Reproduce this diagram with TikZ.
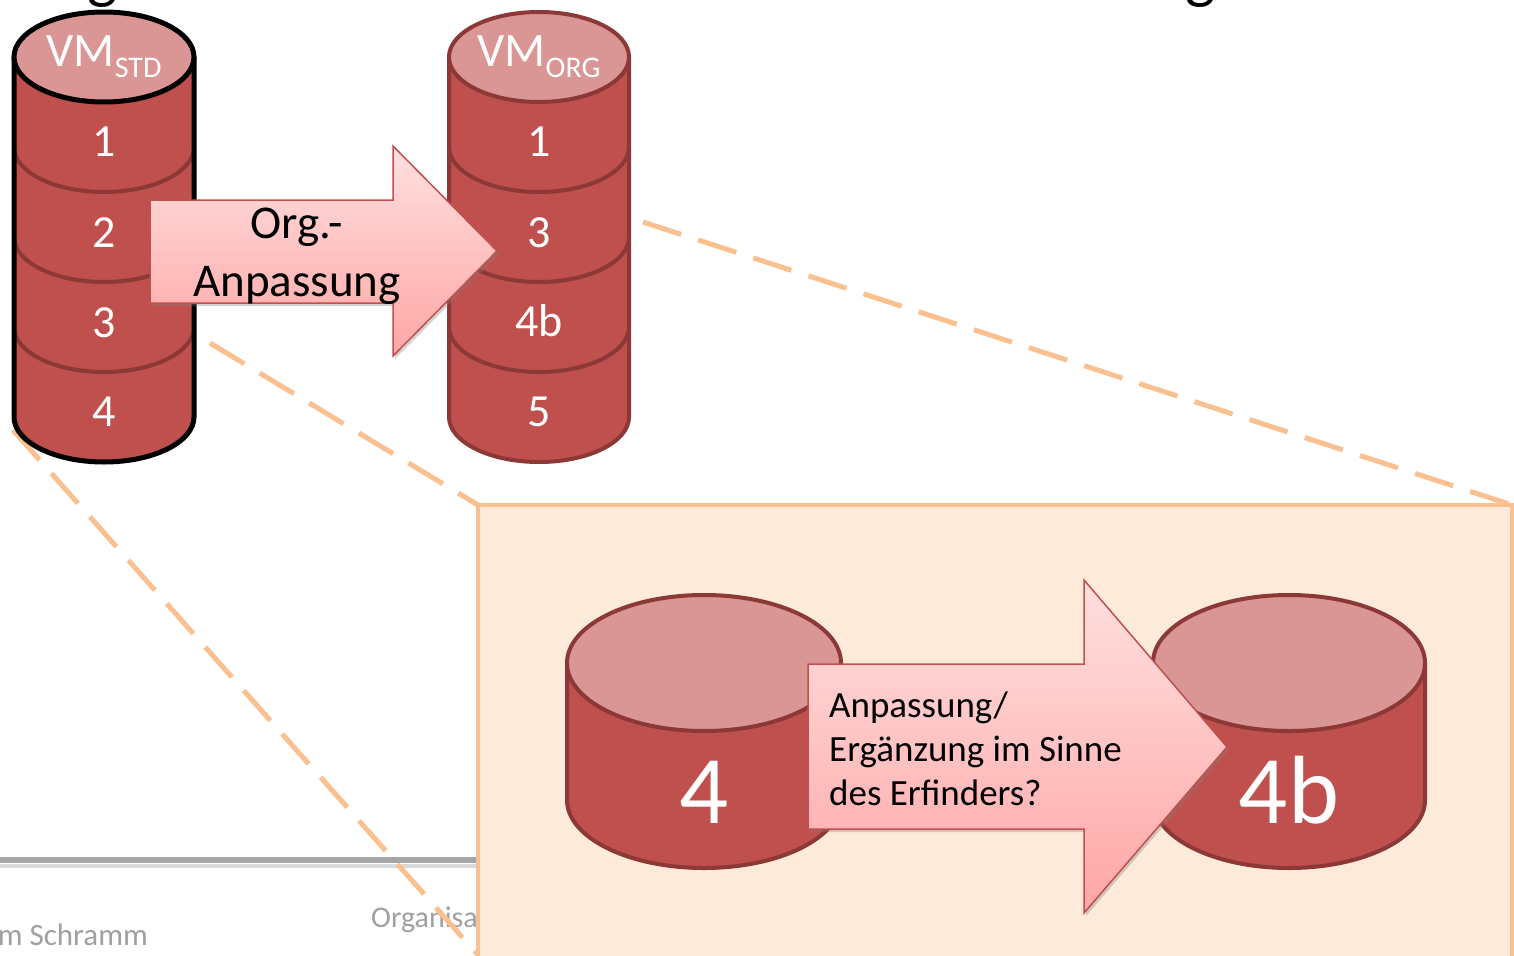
\documentclass[tikz,border=0pt]{standalone}
\usepackage{fontspec}
\setmainfont{Carlito}
\usetikzlibrary{shadows}

\definecolor{cylbody}{HTML}{C0504D}
\definecolor{cyltop}{HTML}{D99694}
\definecolor{cylline}{HTML}{8C3836}
\definecolor{zoomfill}{HTML}{FDEADA}
\definecolor{zoomline}{HTML}{FAC090}
\definecolor{arrowtop}{HTML}{FFE0E0}
\definecolor{arrowbot}{HTML}{FFA6A6}
\definecolor{footgray}{HTML}{A0A0A0}
\definecolor{footline}{HTML}{A6A6A6}
\definecolor{footshade}{HTML}{DADADA}

% cylinder: #1 cx, #2 y of top ellipse, #3 y of bottom ellipse, #4 rx, #5 ry,
% #6 outline colour, #7 outline width
\newcommand\drawcyl[7]{%
  \fill[cylbody] (#1-#4,-#2) -- (#1-#4,-#3)
    arc[start angle=180,end angle=360,x radius=#4pt,y radius=#5pt]
    -- (#1+#4,-#2)
    arc[start angle=0,end angle=180,x radius=#4pt,y radius=#5pt] -- cycle;
}
\newcommand\drawcylrim[7]{%
  \draw[#6,line width=#7pt,line join=round] (#1-#4,-#2) -- (#1-#4,-#3)
    arc[start angle=180,end angle=360,x radius=#4pt,y radius=#5pt]
    -- (#1+#4,-#2);
  \filldraw[fill=cyltop,draw=#6,line width=#7pt] (#1,-#2)
    ellipse[x radius=#4pt,y radius=#5pt];
}
% separator between two slices: #1 cx, #2 y, #3 rx, #4 ry
\newcommand\drawslice[4]{%
  \draw[cylline,line width=4pt] (#1-#3,-#2)
    arc[start angle=180,end angle=360,x radius=#3pt,y radius=#4pt];
}

\tikzset{
  x=1pt, y=1pt,
  zoomdash/.style={draw=zoomline,line width=5pt,dash pattern=on 40pt off 18pt},
  bigarrow/.style={top color=arrowtop,bottom color=arrowbot,draw=cylbody,
    line width=1.5pt,line join=miter,
    drop shadow={shadow xshift=2pt,shadow yshift=-3pt,opacity=0.35}},
  slicelabel/.style={text=white,anchor=base,inner sep=0pt,
    font=\fontsize{46}{46}\selectfont},
  vmlabel/.style={slicelabel,font=\fontsize{48}{48}\selectfont},
  footertext/.style={text=footgray,anchor=base,inner sep=0pt,
    font=\fontsize{31}{31}\selectfont},
}
\newcommand\vmsub[1]{\raisebox{-11pt}{\fontsize{30}{30}\selectfont #1}}

\begin{document}
\begin{tikzpicture}
\useasboundingbox (0,0) rectangle (1514,-955);
\fill[white] (0,0) rectangle (1514,-955);

% descenders of the heading above
\node[anchor=base,inner sep=0pt,font=\fontsize{64}{64}\selectfont] (headg1) at (103,3) {g};
\node[anchor=base,inner sep=0pt,font=\fontsize{64}{64}\selectfont] (headg2) at (1201,3) {g};

% footer
\draw[footshade,line width=4pt] (0,-866) -- (478,-866);
\draw[footline,line width=6pt] (0,-860) -- (478,-860);
\node[footertext,anchor=base east] (author) at (148,-945) {m Schramm};
\node[footertext,anchor=base west,font=\fontsize{30}{30}\selectfont] (footmid) at (371,-927) {Organisation};

% zoom frame
\filldraw[fill=zoomfill,draw=zoomline,line width=4pt] (478,-505) rectangle (1512,-970);
\coordinate (zoomNW) at (478,-505);
\coordinate (zoomNE) at (1512,-505);
\coordinate (zoomSW) at (478,-955);
\coordinate (fromstd3) at (210,-343);
\coordinate (fromstd4) at (13,-430);
\coordinate (fromorg) at (643,-222);
\draw[zoomdash] (fromorg) -- (zoomNE);
\draw[zoomdash] (fromstd3) -- (zoomNW);
\draw[zoomdash] (fromstd4) -- (zoomSW);

% VM_STD cylinder
\drawcyl{104}{57}{417}{90}{45}{black}{5}
\drawslice{104}{147}{90}{45}
\drawslice{104}{237}{90}{45}
\drawslice{104}{327}{90}{45}
\drawcylrim{104}{57}{417}{90}{45}{black}{5}
\node[vmlabel] (vmstd) at (104,-67) {VM\vmsub{STD}};
\node[slicelabel] (std1) at (104,-157) {1};
\node[slicelabel] (std2) at (104,-247) {2};
\node[slicelabel] (std3) at (104,-337) {3};
\node[slicelabel] (std4) at (104,-426) {4};

% VM_ORG cylinder
\drawcyl{539}{57}{417}{90}{45}{cylline}{4}
\drawslice{539}{147}{90}{45}
\drawslice{539}{237}{90}{45}
\drawslice{539}{327}{90}{45}
\drawcylrim{539}{57}{417}{90}{45}{cylline}{4}
\node[vmlabel] (vmorg) at (539,-67) {VM\vmsub{ORG}};
\node[slicelabel] (org1) at (539,-157) {1};
\node[slicelabel] (org3) at (539,-247) {3};
\node[slicelabel] (org4b) at (539,-336) {4b};
\node[slicelabel] (org5) at (539,-426) {5};

% arrow between the two versions
\path[bigarrow] (150,-200) -- (393,-200) -- (393,-146) -- (497,-251)
  -- (393,-356) -- (393,-303) -- (150,-303) -- cycle;
\node[align=center,inner sep=0pt,font=\fontsize{47}{58}\selectfont] (orglabel)
  at (297,-256) {Org.-\\Anpassung};

% single slices in the zoom frame
\drawcyl{704}{663}{800}{137}{68}{cylline}{4}
\drawcylrim{704}{663}{800}{137}{68}{cylline}{4}
\node[slicelabel,font=\fontsize{97}{97}\selectfont] (slice4) at (704,-823) {4};
\drawcyl{1289}{663}{800}{136}{68}{cylline}{4}
\drawcylrim{1289}{663}{800}{136}{68}{cylline}{4}
\node[slicelabel,font=\fontsize{97}{97}\selectfont] (slice4b) at (1289,-823) {4b};

\path[bigarrow] (808,-664) -- (1084,-664) -- (1084,-580) -- (1227,-747)
  -- (1084,-913) -- (1084,-829) -- (808,-829) -- cycle;
\node[align=left,anchor=west,inner sep=0pt,font=\fontsize{37}{44}\selectfont] (question)
  at (829,-749) {Anpassung/\\Ergänzung im Sinne\\des Erfinders?};
\end{tikzpicture}
\end{document}
